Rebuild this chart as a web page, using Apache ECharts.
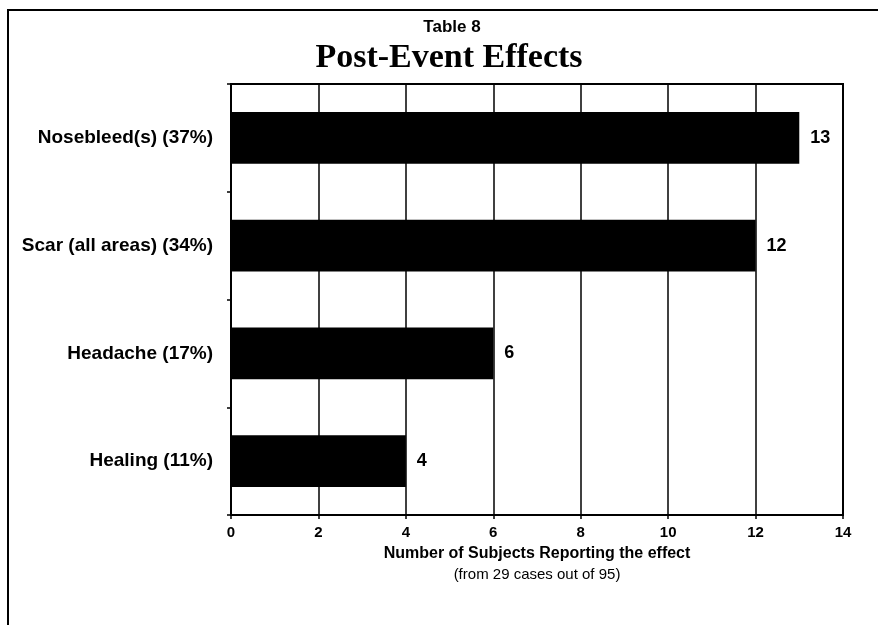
<!DOCTYPE html>
<html>
<head>
<meta charset="utf-8">
<script src="https://cdn.jsdelivr.net/npm/echarts@6/dist/echarts.min.js"></script>
<style>html,body{margin:0;padding:0;background:#fff;}#c{width:878px;height:625px;}</style>
</head>
<body>
<div id="c"></div>
<script>
const categories = ["Nosebleed(s) (37%)", "Scar (all areas) (34%)", "Headache (17%)", "Healing (11%)"];
const values = [13, 12, 6, 4];
const xTicks = [0, 2, 4, 6, 8, 10, 12, 14];

const chart = echarts.init(document.getElementById('c'));
chart.setOption({
  backgroundColor: '#fff',
  animation: false,
  graphic: [
    { type: 'polyline', shape: { points: [[8, 640], [8, 10], [878, 10]] }, style: { fill: 'none', stroke: '#000', lineWidth: 2 }, silent: true },
    { type: 'text', x: 452, y: 27, style: { text: 'Table 8', align: 'center', verticalAlign: 'middle', font: 'bold 17px "Liberation Sans", Arial, sans-serif', fill: '#000' }, silent: true },
    { type: 'text', x: 449, y: 58, style: { text: 'Post-Event Effects', align: 'center', verticalAlign: 'middle', font: 'bold 34px "Liberation Serif", "Times New Roman", serif', fill: '#000' }, silent: true }
  ],
  grid: { left: 231, right: 35, top: 84, bottom: 110, show: true, borderColor: '#000', borderWidth: 2, backgroundColor: 'transparent' },
  xAxis: {
    type: 'value', min: xTicks[0], max: xTicks[xTicks.length - 1], interval: 2,
    axisLine: { show: true, lineStyle: { color: '#000', width: 2 } },
    axisTick: { show: true, length: 4, lineStyle: { color: '#000', width: 1.5 } },
    splitLine: { show: true, lineStyle: { color: '#000', width: 1.5 } },
    axisLabel: { color: '#000', fontFamily: 'Liberation Sans', fontWeight: 'bold', fontSize: 15, margin: 10 },
    name: '{a|Number of Subjects Reporting the effect}\n{b|(from 29 cases out of 95)}',
    nameLocation: 'middle', nameGap: 28,
    nameTextStyle: {
      rich: {
        a: { fontFamily: 'Liberation Sans', fontWeight: 'bold', fontSize: 16, color: '#000', lineHeight: 21 },
        b: { fontFamily: 'Liberation Sans', fontSize: 15, color: '#000', lineHeight: 21 }
      }
    }
  },
  yAxis: {
    type: 'category', data: categories, inverse: true,
    axisLine: { show: true, lineStyle: { color: '#000', width: 2 } },
    axisTick: { show: true, length: 4, lineStyle: { color: '#000', width: 1.5 } },
    axisLabel: { color: '#000', fontFamily: 'Liberation Sans', fontWeight: 'bold', fontSize: 19, margin: 18 },
    splitLine: { show: false }
  },
  series: [{
    type: 'bar', data: values, barCategoryGap: '52%',
    itemStyle: { color: '#000' },
    label: { show: true, position: 'right', distance: 11, color: '#000', fontFamily: 'Liberation Sans', fontWeight: 'bold', fontSize: 18 }
  }]
});
</script>
</body>
</html>
